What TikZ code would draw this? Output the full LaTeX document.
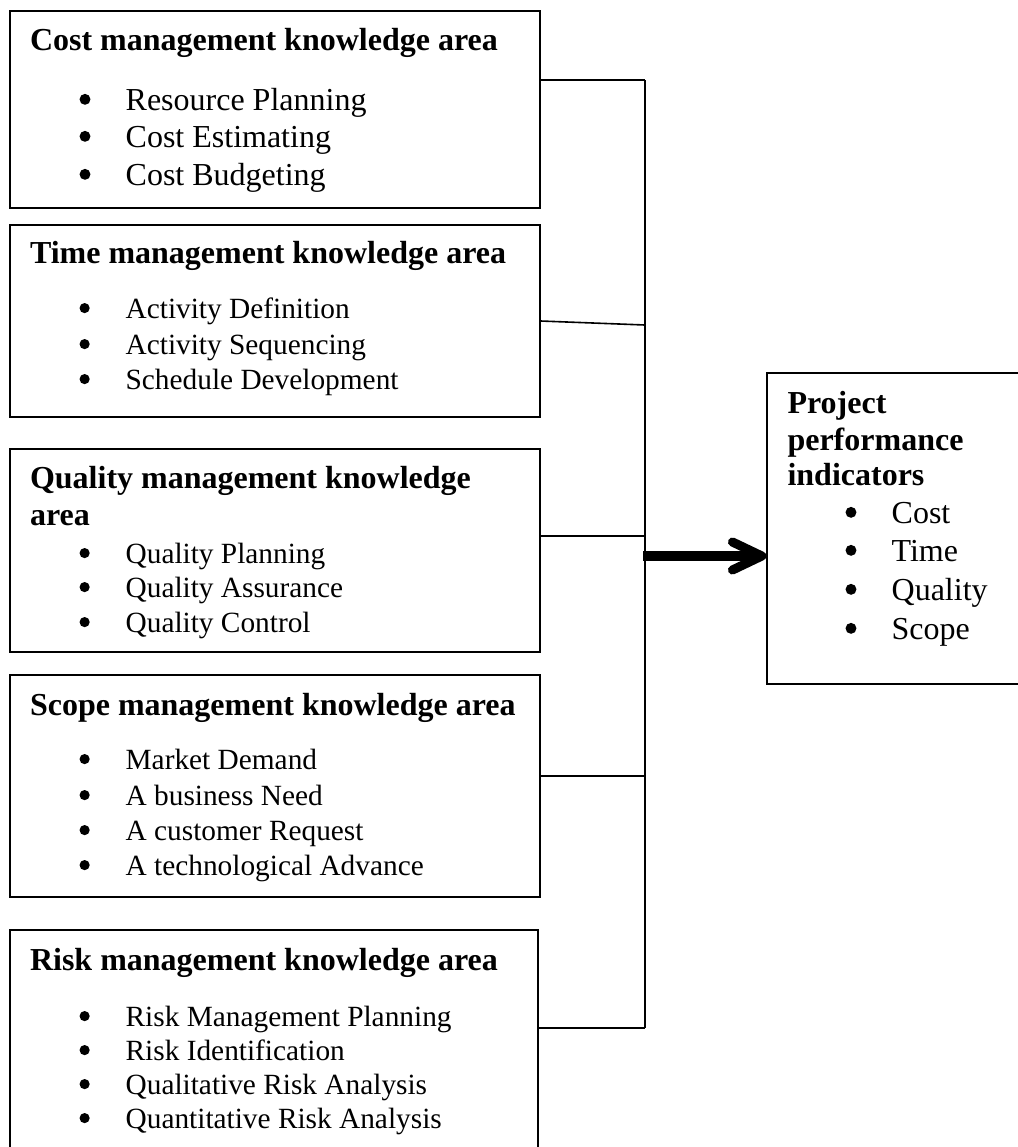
\documentclass[tikz,border=0pt]{standalone}
\usepackage{fontspec}
\setmainfont{Liberation Serif}
\usepackage{tikz}
\usetikzlibrary{arrows.meta,fit}
\newcommand{\bul}[1][1]{\makebox[17.3pt][l]{\tikz[baseline=0pt, scale=#1]\fill (2.1pt,4pt) circle (2.05pt);}}

\begin{document}
\begin{tikzpicture}[x=0.375pt, y=-0.375pt, font=\fontsize{12}{13.8}\selectfont, area box/.style={draw, line width=0.5pt, inner sep=0pt}, heading/.style={anchor=base west, inner sep=0pt, font=\fontsize{12}{13.8}\selectfont\bfseries}, entry/.style={anchor=base west, inner sep=0pt}, small entry/.style={entry, font=\fontsize{11}{12.65}\selectfont}, link/.style={line width=0.8pt}, big arrow/.style={line width=3.4pt, -{Straight Barb[length=11pt,width=10.5pt,round]}}]
\clip (0,0) rectangle (1018,1147);
\node[area box, fit={(10,11) (540,208)}] (cost) {};
\node[heading] (costT) at (29.5,50) {Cost management knowledge area};
\node[entry] (cost1) at (79,110) {\bul Resource Planning};
\node[entry] (cost2) at (79,147) {\bul Cost Estimating};
\node[entry] (cost3) at (79,185) {\bul Cost Budgeting};
\node[area box, fit={(10,225) (540,417)}] (time) {};
\node[heading] (timeT) at (29.5,263) {Time management knowledge area};
\node[small entry] (time1) at (79,318) {\bul[0.93]Activity Definition};
\node[small entry] (time2) at (79,354) {\bul[0.93]Activity Sequencing};
\node[small entry] (time3) at (79,389) {\bul[0.93]Schedule Development};
\node[area box, fit={(10,449) (540,652)}] (quality) {};
\node[heading] (qualityT) at (29.5,488) {Quality management knowledge};
\node[heading] (qualityU) at (29.5,525) {area};
\node[small entry] (quality1) at (79,563) {\bul[0.93]Quality Planning};
\node[small entry] (quality2) at (79,597) {\bul[0.93]Quality Assurance};
\node[small entry] (quality3) at (79,632) {\bul[0.93]Quality Control};
\node[area box, fit={(10,675) (540,897)}] (scope) {};
\node[heading] (scopeT) at (29.5,715) {Scope management knowledge area};
\node[small entry] (scope1) at (79,769) {\bul[0.93]Market Demand};
\node[small entry] (scope2) at (79,805) {\bul[0.93]A business Need};
\node[small entry] (scope3) at (79,840) {\bul[0.93]A customer Request};
\node[small entry] (scope4) at (79,875) {\bul[0.93]A technological Advance};
\node[area box, fit={(10,930) (538,1170)}] (risk) {};
\node[heading] (riskT) at (29.5,970) {Risk management knowledge area};
\node[small entry] (risk1) at (79,1026) {\bul[0.93]Risk Management Planning};
\node[small entry] (risk2) at (79,1060) {\bul[0.93]Risk Identification};
\node[small entry] (risk3) at (79,1094) {\bul[0.93]Qualitative Risk Analysis};
\node[small entry] (risk4) at (79,1128) {\bul[0.93]Quantitative Risk Analysis};
\node[area box, fit={(767,373) (1040,684)}] (ppi) {};
\node[heading] (ppiT) at (787,413) {Project};
\node[heading] (ppiU) at (787,450) {performance};
\node[heading] (ppiV) at (787,485) {indicators};
\node[entry] (ppi1) at (845,523) {\bul Cost};
\node[entry] (ppi2) at (845,561) {\bul Time};
\node[entry] (ppi3) at (845,600) {\bul Quality};
\node[entry] (ppi4) at (845,639) {\bul Scope};
\coordinate (c1) at (645,80);
\coordinate (c2) at (645,325);
\coordinate (c3) at (645,536);
\coordinate (c4) at (645,776);
\coordinate (c5) at (645,1028);
\coordinate (c0) at (643,556);
\draw[link, line width=0.9pt] (c1) -- (c5);
\draw[link, line width=1pt] (cost.east |- c1) -- (c1);
\draw[link, line width=0.6pt] (time.east) -- (c2);
\draw[link, line width=0.6pt] (quality.east |- c3) -- (c3);
\draw[link, line width=1.1pt] (scope.east |- c4) -- (c4);
\draw[link] (risk.east |- c5) -- (c5);
\draw[big arrow] (c0) -- (ppi.west |- c0);
\end{tikzpicture}
\end{document}
